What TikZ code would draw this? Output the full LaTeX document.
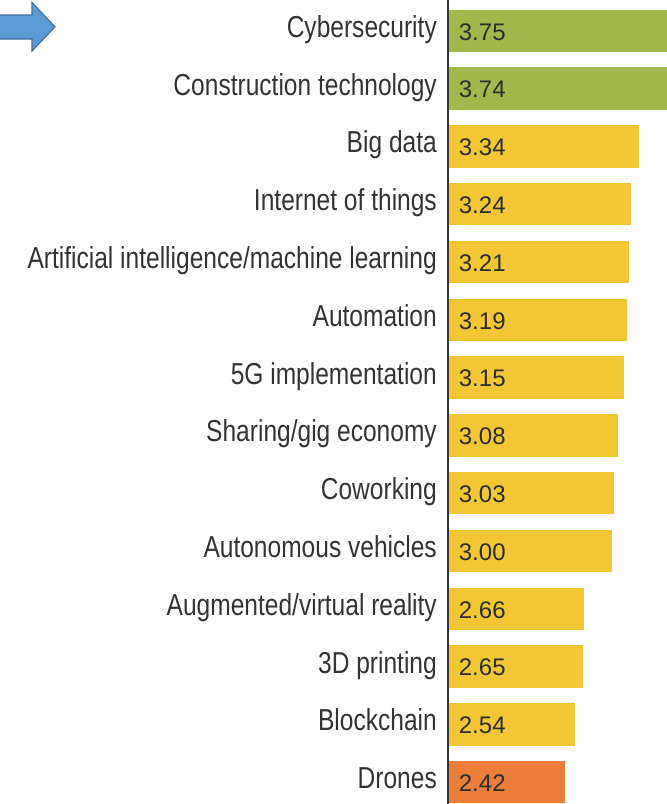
\documentclass[tikz,border=0pt]{standalone}
\usepackage{fontspec}
\usepackage{tikz}
\newfontfamily\namefont[FakeStretch=0.81]{Liberation Sans}
\newfontfamily\valuefont{Liberation Sans}
\definecolor{barGreen}{HTML}{A3B84C}
\definecolor{barYellow}{HTML}{F2C634}
\definecolor{barOrange}{HTML}{EB7E3B}
\definecolor{arrowFill}{HTML}{5B9BD5}
\definecolor{arrowLine}{HTML}{41719C}
\definecolor{textGray}{HTML}{333333}

\begin{document}
\begin{tikzpicture}[x=1pt,y=-1pt,
            name node/.style={anchor=base east,inner sep=0pt,text=textGray,font=\namefont\fontsize{30.3}{36}\selectfont},
            bar node/.style={anchor=north west,inner sep=0pt,minimum height=42.4pt,draw=none},
            value node/.style={anchor=west,inner sep=0pt,xshift=10pt,yshift=-1.2pt,text=textGray!90!black,font=\valuefont\fontsize{24}{28}\selectfont},
            ]
            \useasboundingbox (0,0) rectangle (667,804);

            % pointer arrow
            \filldraw[fill=arrowFill,draw=arrowLine,line width=1.2pt,line join=miter]
                (-2,15) -- (32,15) -- (32,2.5) -- (55,26.8) -- (32,51) -- (32,39) -- (-2,39) -- cycle;

            \node[bar node, fill=barGreen, minimum width=218.3] (b1) at (448.7,{9.3 + 57.8*0}) {};
            \node[bar node, fill=barGreen, minimum width=218.3] (b2) at (448.7,{9.3 + 57.8*1}) {};
            \node[bar node, fill=barYellow, minimum width=190.3] (b3) at (448.7,{9.3 + 57.8*2}) {};
            \node[bar node, fill=barYellow, minimum width=182.2] (b4) at (448.7,{9.3 + 57.8*3}) {};
            \node[bar node, fill=barYellow, minimum width=179.8] (b5) at (448.7,{9.3 + 57.8*4}) {};
            \node[bar node, fill=barYellow, minimum width=178.2] (b6) at (448.7,{9.3 + 57.8*5}) {};
            \node[bar node, fill=barYellow, minimum width=174.9] (b7) at (448.7,{9.3 + 57.8*6}) {};
            \node[bar node, fill=barYellow, minimum width=169.3] (b8) at (448.7,{9.3 + 57.8*7}) {};
            \node[bar node, fill=barYellow, minimum width=165.2] (b9) at (448.7,{9.3 + 57.8*8}) {};
            \node[bar node, fill=barYellow, minimum width=162.8] (b10) at (448.7,{9.3 + 57.8*9}) {};
            \node[bar node, fill=barYellow, minimum width=135.3] (b11) at (448.7,{9.3 + 57.8*10}) {};
            \node[bar node, fill=barYellow, minimum width=134.5] (b12) at (448.7,{9.3 + 57.8*11}) {};
            \node[bar node, fill=barYellow, minimum width=125.6] (b13) at (448.7,{9.3 + 57.8*12}) {};
            \node[bar node, fill=barOrange, minimum width=115.9] (b14) at (448.7,{9.3 + 57.8*13}) {};

            \node[value node] (v1) at (b1.west) {3.75};
            \node[value node] (v2) at (b2.west) {3.74};
            \node[value node] (v3) at (b3.west) {3.34};
            \node[value node] (v4) at (b4.west) {3.24};
            \node[value node] (v5) at (b5.west) {3.21};
            \node[value node] (v6) at (b6.west) {3.19};
            \node[value node] (v7) at (b7.west) {3.15};
            \node[value node] (v8) at (b8.west) {3.08};
            \node[value node] (v9) at (b9.west) {3.03};
            \node[value node] (v10) at (b10.west) {3.00};
            \node[value node] (v11) at (b11.west) {2.66};
            \node[value node] (v12) at (b12.west) {2.65};
            \node[value node] (v13) at (b13.west) {2.54};
            \node[value node] (v14) at (b14.west) {2.42};

            \node[name node] (n1) at (437,{37.3 + 57.8*0}) {Cybersecurity};
            \node[name node] (n2) at (437,{37.3 + 57.8*1}) {Construction technology};
            \node[name node] (n3) at (437,{37.3 + 57.8*2}) {Big data};
            \node[name node] (n4) at (437,{37.3 + 57.8*3}) {Internet of things};
            \node[name node] (n5) at (437,{37.3 + 57.8*4}) {Artificial intelligence/machine learning};
            \node[name node] (n6) at (437,{37.3 + 57.8*5}) {Automation};
            \node[name node] (n7) at (437,{37.3 + 57.8*6}) {5G implementation};
            \node[name node] (n8) at (437,{37.3 + 57.8*7}) {Sharing/gig economy};
            \node[name node] (n9) at (437,{37.3 + 57.8*8}) {Coworking};
            \node[name node] (n10) at (437,{37.3 + 57.8*9}) {Autonomous vehicles};
            \node[name node] (n11) at (437,{37.3 + 57.8*10}) {Augmented/virtual reality};
            \node[name node] (n12) at (437,{37.3 + 57.8*11}) {3D printing};
            \node[name node] (n13) at (437,{37.3 + 57.8*12}) {Blockchain};
            \node[name node] (n14) at (437,{37.3 + 57.8*13}) {Drones};

            % axis
            \coordinate (axis top) at (447.7,0);
            \coordinate (axis bottom) at (447.7,804);
            \draw[textGray,line width=1.8pt] (axis top) -- (axis bottom);
        \end{tikzpicture}
\end{document}
